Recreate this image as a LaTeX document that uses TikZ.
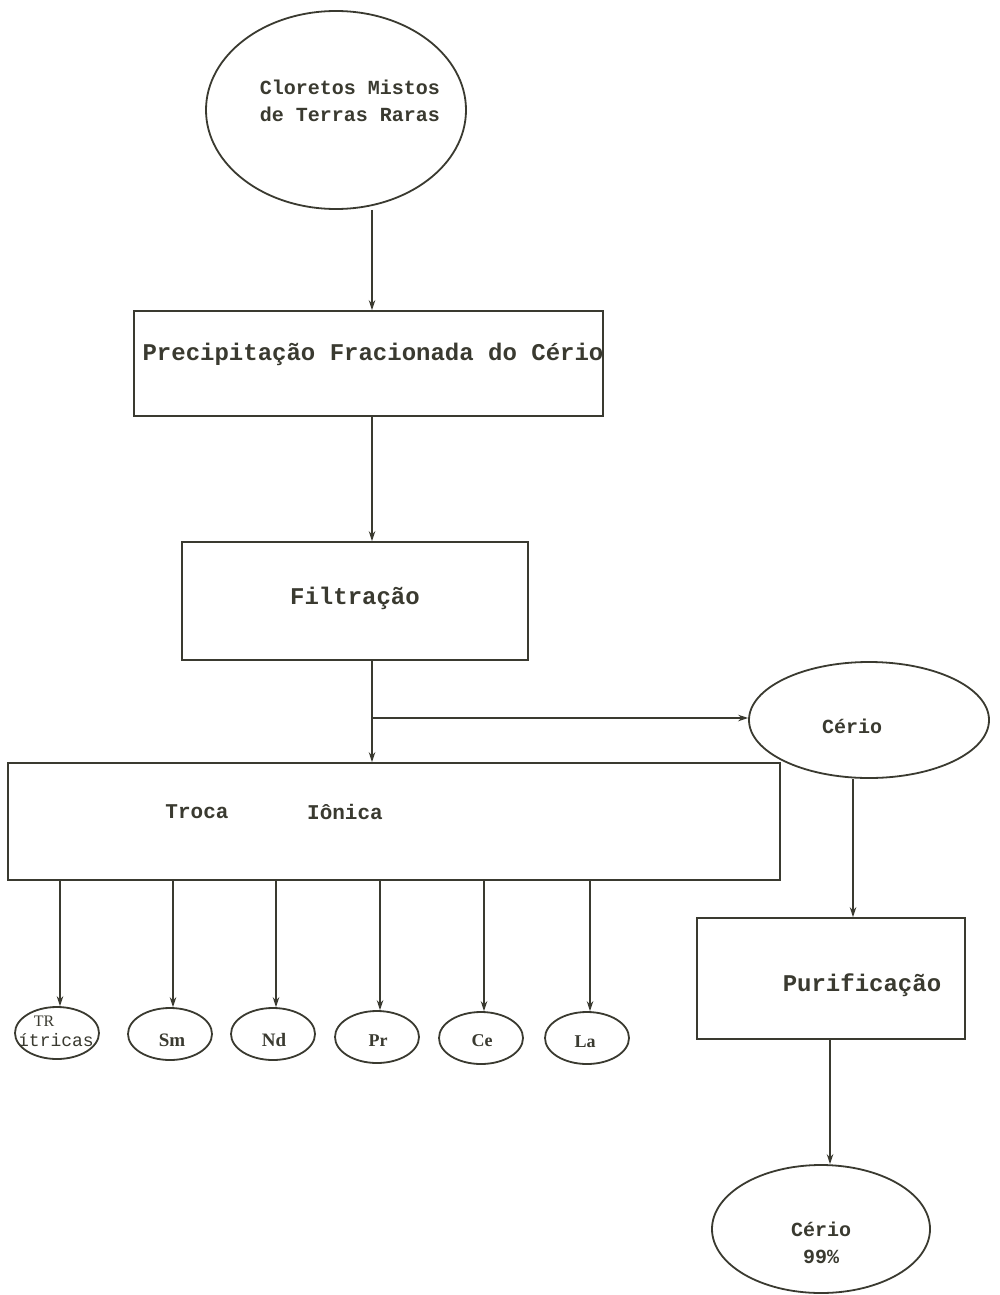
\documentclass[tikz,border=0pt]{standalone}
\usepackage{fontspec}
\setmainfont{Liberation Mono}
\newfontfamily\monof{Liberation Mono}
\newfontfamily\seriff{Liberation Serif}
\usetikzlibrary{shapes.geometric,arrows.meta}
\definecolor{inkc}{RGB}{58,58,48}
\tikzset{
  ink/.style={draw=inkc, line width=1.8pt},
  boxn/.style={ink, rectangle, inner sep=0pt},
  elln/.style={ink, ellipse, inner sep=0pt},
  arr/.style={ink, -{Stealth[length=10pt,width=6.5pt]}},
  txt/.style={text=inkc, inner sep=0pt, align=center},
  big/.style={font=\monof\bfseries\fontsize{24}{28}\selectfont},
  mid/.style={font=\monof\bfseries\fontsize{20}{27}\selectfont},
  sml/.style={font=\seriff\bfseries\fontsize{18}{18}\selectfont}
}
\begin{document}
\begin{tikzpicture}[x=1pt,y=-1pt]
\useasboundingbox (0,0) rectangle (999,1295);
\fill[white] (0,0) rectangle (999,1295);

% shapes
\node[elln, minimum width=260, minimum height=198] (e1) at (336,110) {};
\node[txt, mid] (e1t) at (350,101) {Cloretos Mistos\\de Terras Raras};

\node[boxn, minimum width=469, minimum height=105] (pb) at (368.5,363.5) {};
\node[txt, big] (pbt) at (373,354) {Precipitação Fracionada do Cério};

\node[boxn, minimum width=346, minimum height=118] (fb) at (355,601) {};
\node[txt, big] (fbt) at (355,598) {Filtração};

\node[boxn, minimum width=772, minimum height=117] (tb) at (394,821.5) {};
\node[txt, font=\monof\bfseries\fontsize{21}{21}\selectfont] (tbt1) at (197,812) {Troca};
\node[txt, font=\monof\bfseries\fontsize{21}{21}\selectfont] (tbt2) at (345,812) {Iônica};

\node[elln, minimum width=240, minimum height=116] (cer) at (869,720) {};
\node[txt, mid] (cert) at (852,726) {Cério};

\node[boxn, minimum width=268, minimum height=121] (pur) at (831,978.5) {};
\node[txt, big] (purt) at (862,985) {Purificação};

\node[elln, minimum width=218, minimum height=128] (fin) at (821,1229) {};
\node[txt, mid] (fint) at (821,1243) {Cério\\99\%};

% bottom ellipses
\node[elln, minimum width=84, minimum height=52] (b1) at (57,1033) {};
\node[elln, minimum width=84, minimum height=52] (b2) at (170,1034) {};
\node[elln, minimum width=84, minimum height=52] (b3) at (273,1034) {};
\node[elln, minimum width=84, minimum height=52] (b4) at (377,1037) {};
\node[elln, minimum width=84, minimum height=52] (b5) at (481,1038) {};
\node[elln, minimum width=84, minimum height=52] (b6) at (587,1038) {};
\node[txt, font=\seriff\fontsize{16}{16}\selectfont] (b1a) at (44,1021) {TR};
\node[txt, font=\monof\fontsize{18}{18}\selectfont] (b1b) at (56,1040) {ítricas};
\node[txt, font=\seriff\bfseries\fontsize{19}{19}\selectfont] (b2t) at (172,1040) {Sm};
\node[txt, font=\seriff\bfseries\fontsize{19}{19}\selectfont] (b3t) at (274,1040) {Nd};
\node[txt, sml] (b4t) at (378,1041) {Pr};
\node[txt, sml] (b5t) at (482,1041) {Ce};
\node[txt, sml] (b6t) at (585,1042) {La};

% connectors
\coordinate (c1) at (372,0);
\coordinate (br) at (372,718);
\coordinate (c2) at (853,0);
\coordinate (c3) at (830,0);
\draw[arr] (c1 |- e1.south) -- (c1 |- pb.north);
\draw[arr] (c1 |- pb.south) -- (c1 |- fb.north);
\draw[arr] (c1 |- fb.south) -- (c1 |- tb.north);
\draw[arr] (br) -- (br -| cer.west);
\draw[arr] (c2 |- cer.south) -- (c2 |- pur.north);
\draw[arr] (c3 |- pur.south) -- (c3 |- fin.north);

\coordinate (x1) at (60,0);
\coordinate (x2) at (173,0);
\coordinate (x3) at (276,0);
\coordinate (x4) at (380,0);
\coordinate (x5) at (484,0);
\coordinate (x6) at (590,0);
\draw[arr] (x1 |- tb.south) -- (x1 |- b1.north);
\draw[arr] (x2 |- tb.south) -- (x2 |- b2.north);
\draw[arr] (x3 |- tb.south) -- (x3 |- b3.north);
\draw[arr] (x4 |- tb.south) -- (x4 |- b4.north);
\draw[arr] (x5 |- tb.south) -- (x5 |- b5.north);
\draw[arr] (x6 |- tb.south) -- (x6 |- b6.north);
\end{tikzpicture}
\end{document}
